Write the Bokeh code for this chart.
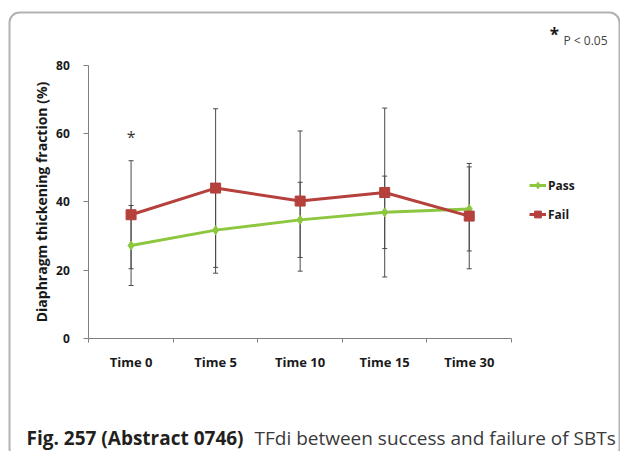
import numpy as np
from bokeh.plotting import figure
from bokeh.models import (Range1d, FixedTicker, Label, Legend, LegendItem,
                          BoxAnnotation, ColumnDataSource, LinearAxis)
from bokeh.core.properties import value
from bokeh.embed import file_html
from bokeh.resources import INLINE

# ---- data ----
categories = ["Time 0", "Time 5", "Time 10", "Time 15", "Time 30"]
pass_mean = [27.2, 31.7, 34.7, 36.9, 37.9]
pass_sd = [11.7, 12.6, 11.0, 10.6, 12.3]
fail_mean = [36.2, 44.0, 40.2, 42.7, 35.8]
fail_sd = [15.8, 23.2, 20.5, 24.7, 15.4]
y_ticks = [0, 20, 40, 60, 80]
y_max = 80
signif_cat = ["Time 0"]
signif_level = [58.8]

PASS_C = "#8DC63F"
FAIL_C = "#B5403C"
BAR_C = "#4a4a4a"
AXIS_C = "#808080"
FONT = "Open Sans"

W, H = 620, 451                  # canvas
AX_L, AX_R = 88.3, 511.0         # canvas x of the category axis ends
AX_B, AX_T = 338.0, 64.5         # canvas y of value 0 and value y_max

ncat = len(categories)
xc = np.arange(ncat) + 0.5
px_x = (AX_R - AX_L) / ncat
px_y = (AX_B - AX_T) / y_max
x_range = Range1d(-AX_L / px_x, (W - AX_L) / px_x)
y_range = Range1d(-(H - AX_B) / px_y, y_max + AX_T / px_y)

src = ColumnDataSource(dict(
    x=xc,
    pm=pass_mean, pl=np.array(pass_mean) - np.array(pass_sd), pu=np.array(pass_mean) + np.array(pass_sd),
    fm=fail_mean, fl=np.array(fail_mean) - np.array(fail_sd), fu=np.array(fail_mean) + np.array(fail_sd),
))

p = figure(frame_width=W, frame_height=H, min_border=0,
           x_range=x_range, y_range=y_range,
           x_axis_location=None, y_axis_location=None,
           output_backend="svg", toolbar_location=None)
p.outline_line_color = None
p.xgrid.visible = False
p.ygrid.visible = False

# x axis (category axis with boundary ticks)
xa = LinearAxis(fixed_location=0, bounds=(0, ncat))
xa.ticker = FixedTicker(ticks=list(xc), minor_ticks=list(range(ncat + 1)))
xa.major_label_overrides = {float(x): c for x, c in zip(xc, categories)}
xa.major_tick_out = 0
xa.major_tick_in = 0
xa.minor_tick_out = 4
xa.minor_tick_in = 0
xa.minor_tick_line_color = AXIS_C
xa.axis_line_color = AXIS_C
xa.major_label_text_font = FONT
xa.major_label_text_font_style = "bold"
xa.major_label_text_font_size = "13px"
xa.major_label_text_color = "#1a1a1a"
xa.major_label_standoff = 10
p.add_layout(xa, "below")

# y axis
ya = LinearAxis(fixed_location=0, bounds=(0, y_max))
ya.ticker = FixedTicker(ticks=y_ticks)
ya.minor_tick_line_color = None
ya.major_tick_out = 5
ya.major_tick_in = 0
ya.major_tick_line_color = AXIS_C
ya.axis_line_color = AXIS_C
ya.major_label_text_font = FONT
ya.major_label_text_font_style = "bold"
ya.major_label_text_font_size = "12px"
ya.major_label_text_color = "#1a1a1a"
ya.major_label_standoff = 14
ya.axis_label = "Diaphragm thickening fraction (%)"
ya.axis_label_text_font = FONT
ya.axis_label_text_font_style = "bold"
ya.axis_label_text_font_size = "14px"
ya.axis_label_text_color = "#1a1a1a"
ya.axis_label_standoff = 2
p.add_layout(ya, "left")

# error bars
for lo, hi in (("pl", "pu"), ("fl", "fu")):
    p.segment(x0="x", y0=lo, x1="x", y1=hi, source=src, line_color=BAR_C, line_width=1)
    p.dash(x="x", y=lo, source=src, size=5, line_color=BAR_C, line_width=1)
    p.dash(x="x", y=hi, source=src, size=5, line_color=BAR_C, line_width=1)

# series
pl_line = p.line("x", "pm", source=src, line_color=PASS_C, line_width=3)
pl_mark = p.scatter("x", "pm", source=src, marker="diamond", size=9,
                    fill_color=PASS_C, line_color=PASS_C)
fl_line = p.line("x", "fm", source=src, line_color=FAIL_C, line_width=3)
fl_mark = p.scatter("x", "fm", source=src, marker="square", size=10,
                    fill_color=FAIL_C, line_color=FAIL_C)

# significance asterisk
sig_x = [xc[categories.index(c)] for c in signif_cat]
p.text(x=sig_x, y=signif_level, text=["*"] * len(sig_x), text_align="center",
       text_baseline="middle", text_font=value(FONT), text_font_size="16px",
       text_color="#333333")

# helpers converting picture pixels (top-left origin) to screen units
def sx(px):
    return px

def sy(py):
    return H - py

# legend
legend = Legend(items=[LegendItem(label="Pass", renderers=[pl_line, pl_mark]),
                       LegendItem(label="Fail", renderers=[fl_line, fl_mark])],
                location=(sx(529), sy(224)), orientation="vertical",
                glyph_width=17, glyph_height=20, label_height=20, spacing=9,
                label_standoff=2, padding=0, margin=0,
                border_line_color=None, background_fill_alpha=0,
                label_text_font=FONT, label_text_font_style="bold",
                label_text_font_size="12px", label_text_color="#1a1a1a")
p.add_layout(legend, "center")

# p-value note
p.add_layout(Label(x=sx(554), y=sy(34), x_units="screen", y_units="screen", text="*",
                   text_font=FONT, text_font_size="17px", text_font_style="bold",
                   text_color="#1a1a1a", text_align="center", text_baseline="middle"))
p.add_layout(Label(x=sx(563), y=sy(40), x_units="screen", y_units="screen", text="P < 0.05",
                   text_font=FONT, text_font_size="12px", text_color="#444444",
                   text_baseline="middle"))

# caption
p.add_layout(Label(x=sx(26), y=sy(437), x_units="screen", y_units="screen",
                   text="Fig. 257 (Abstract 0746)", text_font=FONT, text_font_size="19px",
                   text_font_style="bold", text_color="#231f20", text_baseline="alphabetic"))
p.add_layout(Label(x=sx(254), y=sy(437), x_units="screen", y_units="screen",
                   text="TFdi between success and failure of SBTs", text_font=FONT,
                   text_font_size="19px", text_color="#3a3a3a", text_baseline="alphabetic"))

# rounded frame around the whole figure (bottom edge falls below the picture)
p.add_layout(BoxAnnotation(left=sx(9), right=sx(619), top=sy(12), bottom=sy(458),
                           left_units="screen", right_units="screen",
                           top_units="screen", bottom_units="screen",
                           fill_alpha=0, line_color="black", line_width=2,
                           border_radius=10, level="overlay"))

open("out.html", "w").write(file_html(p, INLINE))
